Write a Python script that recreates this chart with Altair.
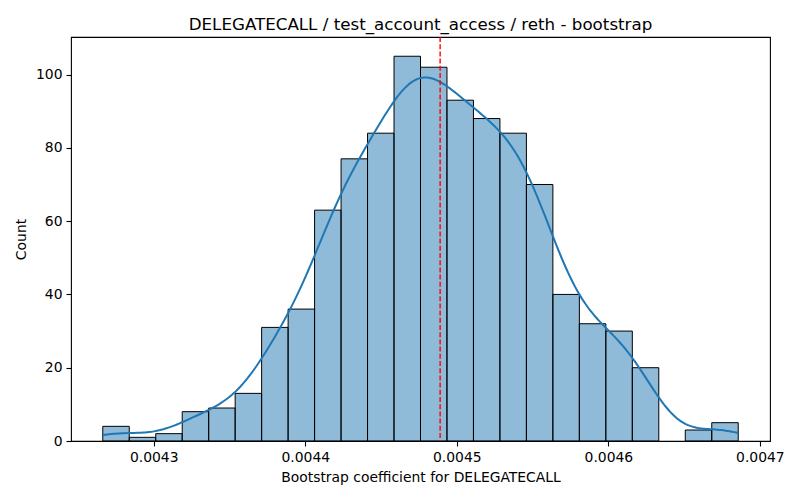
import altair as alt
import numpy as np
import pandas as pd

# ---- data ----
counts = [4, 1, 2, 8, 9, 13, 31, 36, 63, 77, 84, 105, 102, 93, 88, 84, 70, 40, 32, 30, 20, 0, 3, 5]
data_min = 0.0042664
data_max = 0.0046857
marker_value = 0.004489
x_ticks = [0.0043, 0.0044, 0.0045, 0.0046, 0.0047]
y_ticks = [0, 20, 40, 60, 80, 100]
title = "DELEGATECALL / test_account_access / reth - bootstrap"
x_title = "Bootstrap coefficient for DELEGATECALL"
y_title = "Count"

edges = np.linspace(data_min, data_max, len(counts) + 1)
bin_width = edges[1] - edges[0]
hist = pd.DataFrame({"x0": edges[:-1], "x1": edges[1:], "count": counts})
hist = hist[hist["count"] > 0]

centers = (edges[:-1] + edges[1:]) / 2
samples = np.repeat(centers, counts)
bw = float(np.sqrt(np.var(samples) + bin_width ** 2 / 12) * len(samples) ** (-0.2))
raw = pd.DataFrame({"v": samples})
mark_df = pd.DataFrame({"v": [marker_value]})

pad = (data_max - data_min) * 0.05
xdom = [data_min - pad, data_max + pad]
ydom = [0, max(counts) * 1.05]

FONT = "DejaVu Sans"
xscale = alt.Scale(domain=xdom, nice=False, zero=False)
yscale = alt.Scale(domain=ydom, nice=False)

xaxis = alt.Axis(values=x_ticks, format=".4~f", title=x_title, grid=False,
                 tickSize=5, tickWidth=1.1, tickColor="black", domain=False,
                 labelFontSize=13.9, labelColor="black", labelPadding=4,
                 titleFontSize=13.9, titleFontWeight="normal", titleColor="black",
                 titlePadding=7, labelFont=FONT, titleFont=FONT, labelFlush=False)
yaxis = alt.Axis(values=y_ticks, title=y_title, grid=False,
                 tickSize=5, tickWidth=1.1, tickColor="black", domain=False,
                 labelFontSize=13.9, labelColor="black", labelPadding=4,
                 titleFontSize=13.9, titleFontWeight="normal", titleColor="black",
                 titlePadding=7, labelFont=FONT, titleFont=FONT)

bars = alt.Chart(hist).mark_rect(
    fill="#1f77b4", fillOpacity=0.5, stroke="black", strokeWidth=1
).encode(
    x=alt.X("x0:Q", scale=xscale, axis=xaxis),
    x2="x1:Q",
    y=alt.Y("count:Q", scale=yscale, axis=yaxis),
)

kde = alt.Chart(raw).transform_density(
    "v", as_=["v", "density"], bandwidth=bw, extent=[data_min, data_max],
    counts=True, steps=300
).transform_calculate(
    y=f"datum.density * {bin_width}"
).mark_line(color="#1f77b4", strokeWidth=2).encode(
    x=alt.X("v:Q", scale=xscale),
    y=alt.Y("y:Q", scale=yscale),
)

vline = alt.Chart(mark_df).mark_rule(
    color="red", strokeWidth=1.4, strokeDash=[5, 2.2]
).encode(x=alt.X("v:Q", scale=xscale))

chart = alt.layer(bars, kde, vline).properties(
    width=699, height=404,
    background="white",
    title=alt.TitleParams(title, fontSize=16.7, font=FONT, fontWeight="normal",
                          color="black", anchor="middle", offset=3),
    autosize=alt.AutoSizeParams(type="none"),
    padding={"left": 63, "top": 29, "right": 22, "bottom": 51},
).configure_view(stroke="black", strokeWidth=1.1)

chart.save("out.html", embed_options={"renderer": "svg", "actions": False})
